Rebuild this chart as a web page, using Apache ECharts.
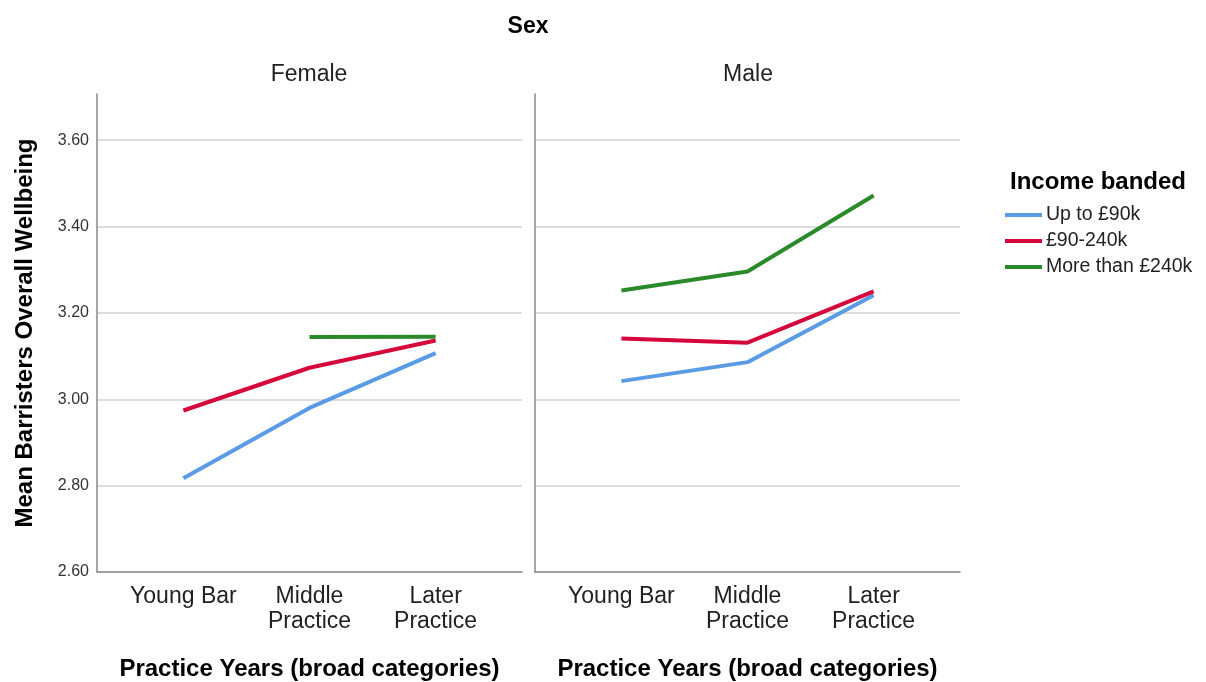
<!DOCTYPE html>
<html>
<head>
<meta charset="utf-8">
<script src="https://cdn.jsdelivr.net/npm/echarts@6/dist/echarts.min.js"></script>
<style>html,body{margin:0;padding:0;background:#fff;}#c{width:1206px;height:682px;}</style>
</head>
<body>
<div id="c"></div>
<script>
const categories = ['Young Bar', 'Middle\nPractice', 'Later\nPractice'];
const panels = ['Female', 'Male'];
const incomeBands = ['Up to £90k', '£90-240k', 'More than £240k'];
const femaleUpTo90k = [2.817, 2.980, 3.107];
const female90to240k = [2.974, 3.073, 3.136];
const femaleOver240k = [null, 3.144, 3.145];
const maleUpTo90k = [3.042, 3.086, 3.241];
const male90to240k = [3.141, 3.131, 3.250];
const maleOver240k = [3.252, 3.296, 3.472];
const yTicks = [2.6, 2.8, 3.0, 3.2, 3.4, 3.6];

const FONT = "'Liberation Sans', Arial, sans-serif";
const colors = ['#5A9BE6', '#D5083B', '#2A8A2A'];
const panelData = [
  [femaleUpTo90k, female90to240k, femaleOver240k],
  [maleUpTo90k, male90to240k, maleOver240k]
];
const catIdx = categories.map((c, i) => i);

const grids = [
  { left: 97, top: 94, width: 425, height: 478, outerBoundsMode: 'none', containLabel: false },
  { left: 535, top: 94, width: 425, height: 478, outerBoundsMode: 'none', containLabel: false }
];

const xAxes = panels.map((p, gi) => ({
  type: 'value', gridIndex: gi, min: -0.685, max: 2.685,
  axisLine: { show: true, onZero: false, lineStyle: { color: '#8a8a8a', width: 1.5 } },
  axisTick: { show: false },
  splitLine: { show: false },
  axisLabel: {
    customValues: catIdx, formatter: v => categories[Math.round(v)],
    fontFamily: FONT, fontSize: 23, lineHeight: 25, color: '#222', margin: 12
  },
  name: 'Practice Years (broad categories)', nameLocation: 'middle', nameGap: 85,
  nameTextStyle: { fontFamily: FONT, fontSize: 24, fontWeight: 'bold', color: '#000' }
}));

const yAxes = panels.map((p, gi) => ({
  type: 'value', gridIndex: gi, min: 2.6, max: 3.707,
  axisLine: { show: true, onZero: false, lineStyle: { color: '#8a8a8a', width: 1.5 } },
  axisTick: { show: false, customValues: yTicks },
  splitLine: { show: true, lineStyle: { color: '#d2d2d2', width: 1.5 } },
  axisLabel: {
    show: gi === 0, customValues: yTicks, formatter: v => v.toFixed(2),
    fontFamily: FONT, fontSize: 16, color: '#333', margin: 8
  },
  name: gi === 0 ? 'Mean Barristers Overall Wellbeing' : '',
  nameLocation: 'middle', nameGap: 60,
  nameTextStyle: { fontFamily: FONT, fontSize: 24, fontWeight: 'bold', color: '#000' }
}));

const series = [];
panels.forEach((p, gi) => {
  incomeBands.forEach((band, si) => {
    const vals = panelData[gi][si];
    series.push({
      name: band, type: 'line', xAxisIndex: gi, yAxisIndex: gi,
      data: vals.map((v, i) => [i, v]).filter(d => d[1] !== null),
      symbol: 'none', color: colors[si],
      lineStyle: { width: 4, color: colors[si] },
      silent: true, animation: false
    });
  });
});

const chart = echarts.init(document.getElementById('c'), null, { renderer: 'canvas' });
chart.setOption({
  animation: false,
  backgroundColor: '#fff',
  title: [
    { text: 'Sex', left: 528, top: 15, textAlign: 'center', padding: 0,
      textStyle: { fontFamily: FONT, fontSize: 23, fontWeight: 'bold', color: '#000' } },
    { text: panels[0], left: 309, top: 63, textAlign: 'center', padding: 0,
      textStyle: { fontFamily: FONT, fontSize: 23, fontWeight: 'normal', color: '#222' } },
    { text: panels[1], left: 748, top: 63, textAlign: 'center', padding: 0,
      textStyle: { fontFamily: FONT, fontSize: 23, fontWeight: 'normal', color: '#222' } },
    { text: 'Income banded', left: 1010, top: 170, padding: 0,
      textStyle: { fontFamily: FONT, fontSize: 24, fontWeight: 'bold', color: '#000' } }
  ],
  legend: {
    data: incomeBands, orient: 'vertical', left: 1000, top: 200,
    icon: 'rect', itemWidth: 37, itemHeight: 4, itemGap: 6,
    textStyle: { fontFamily: FONT, fontSize: 19.5, color: '#222', padding: [0, 0, 0, -1] },
    selectedMode: false
  },
  grid: grids,
  xAxis: xAxes,
  yAxis: yAxes,
  series: series
});
</script>
</body>
</html>
